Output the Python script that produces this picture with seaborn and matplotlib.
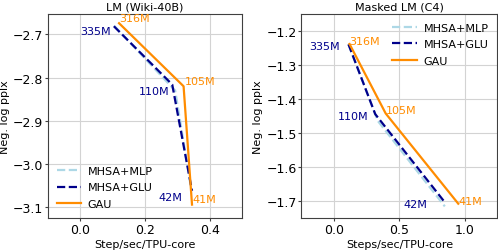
import pandas as pd
import matplotlib
matplotlib.use("Agg")
import matplotlib.pyplot as plt
import seaborn as sns

# model sizes shown next to the points
mhsa_sizes = ["335M", "110M", "42M"]
gau_sizes = ["316M", "105M", "41M"]

# LM (Wiki-40B)
lm_mlp_x = [0.105, 0.293, 0.343]
lm_mlp_y = [-2.680, -2.830, -3.060]
lm_glu_x = [0.104, 0.284, 0.345]
lm_glu_y = [-2.681, -2.816, -3.062]
lm_gau_x = [0.120, 0.319, 0.345]
lm_gau_y = [-2.674, -2.820, -3.094]

# Masked LM (C4)
mlm_mlp_x = [0.110, 0.335, 0.848]
mlm_mlp_y = [-1.240, -1.465, -1.716]
mlm_glu_x = [0.110, 0.315, 0.840]
mlm_glu_y = [-1.240, -1.445, -1.700]
mlm_gau_x = [0.118, 0.395, 0.951]
mlm_gau_y = [-1.239, -1.443, -1.708]

models = ["MHSA+MLP", "MHSA+GLU", "GAU"]
colors = {"MHSA+MLP": "#add8e6", "MHSA+GLU": "#00008b", "GAU": "#ff8c00"}
dashes = {"MHSA+MLP": (3.7, 1.6), "MHSA+GLU": (3.7, 1.6), "GAU": ""}


def to_frame(xs, ys):
    rows = []
    for m, x, y in zip(models, xs, ys):
        for a, b in zip(x, y):
            rows.append({"model": m, "speed": a, "ppl": b})
    return pd.DataFrame(rows)


lm_df = to_frame([lm_mlp_x, lm_glu_x, lm_gau_x], [lm_mlp_y, lm_glu_y, lm_gau_y])
mlm_df = to_frame([mlm_mlp_x, mlm_glu_x, mlm_gau_x], [mlm_mlp_y, mlm_glu_y, mlm_gau_y])

plt.rcParams["font.family"] = ["DejaVu Sans"]
fig = plt.figure(figsize=(4.98, 2.51), dpi=100)
ax1 = fig.add_axes([0.0958, 0.1275, 0.3907, 0.8139])
ax2 = fig.add_axes([0.6054, 0.1275, 0.3932, 0.8139])


def draw(ax, df, title, xlabel, xlim, ylim, xticks, yticks, legend_loc, offs):
    ax.grid(True, color="#d3d3d3", linewidth=0.8, zorder=0)
    ax.set_axisbelow(True)
    sns.lineplot(data=df, x="speed", y="ppl", hue="model", style="model",
                 palette=colors, dashes=dashes, hue_order=models, style_order=models,
                 sort=False, linewidth=1.6, ax=ax)
    glu = df[df.model == "MHSA+GLU"]
    gau = df[df.model == "GAU"]
    for (_, r), s, (dx, dy, ha, va) in zip(glu.iterrows(), mhsa_sizes, offs[0]):
        ax.annotate(s, (r.speed, r.ppl), xytext=(dx, dy), textcoords="offset points",
                    ha=ha, va=va, color="#00008b", fontsize=8)
    for (_, r), s, (dx, dy, ha, va) in zip(gau.iterrows(), gau_sizes, offs[1]):
        ax.annotate(s, (r.speed, r.ppl), xytext=(dx, dy), textcoords="offset points",
                    ha=ha, va=va, color="#ff8c00", fontsize=8)
    ax.set_xlim(*xlim)
    ax.set_ylim(*ylim)
    ax.set_xticks(xticks)
    ax.set_yticks(yticks)
    ax.tick_params(labelsize=9, length=2, pad=1.5, color="0.25")
    for sp in ax.spines.values():
        sp.set_color("0.25")
    ax.set_title(title, fontsize=8, pad=3)
    ax.set_xlabel(xlabel, fontsize=8, labelpad=2)
    ax.set_ylabel("Neg. log pplx", fontsize=8, labelpad=2)
    ax.legend(loc=legend_loc, frameon=False, fontsize=8, handlelength=2.2,
              handletextpad=0.6, borderaxespad=0.4, labelspacing=0.6, title=None)


draw(ax1, lm_df, "LM (Wiki-40B)", "Step/sec/TPU-core", (-0.1, 0.5), (-3.125, -2.652),
     [0.0, 0.2, 0.4], [-2.7, -2.8, -2.9, -3.0, -3.1], "lower left",
     [[(-2, -3.5, "right", "center"), (-2, -5, "right", "center"), (-7, -4.5, "right", "center")],
      [(0, 0, "left", "bottom"), (1, 3.5, "left", "center"), (0, 4, "left", "center")]])
draw(ax2, mlm_df, "Masked LM (C4)", "Steps/sec/TPU-core", (-0.25, 1.25), (-1.75, -1.15),
     [0.0, 0.5, 1.0], [-1.2, -1.3, -1.4, -1.5, -1.6, -1.7], "upper right",
     [[(-6.5, -1.5, "right", "center"), (-5, -1.5, "right", "center"), (-11.5, -2.5, "right", "center")],
      [(0, 2, "left", "center"), (0, 2.5, "left", "center"), (0, 2, "left", "center")]])

fig.savefig("out.png", dpi=100)
